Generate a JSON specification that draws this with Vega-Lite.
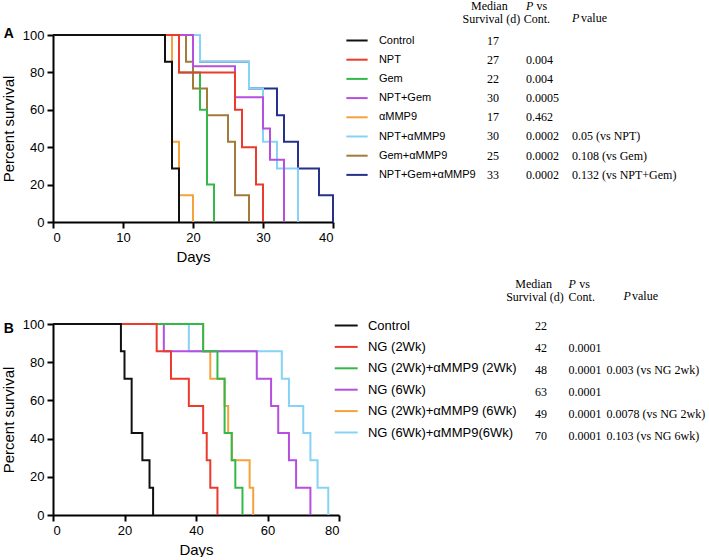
{
  "$schema": "https://vega.github.io/schema/vega-lite/v6.json",
  "padding": {"left": 1, "top": 0, "right": 0, "bottom": 0},
  "background": "white",
  "config": {
    "view": {"stroke": null},
    "font": "Liberation Sans",
    "axis": {"domainColor": "black", "domainWidth": 2, "tickColor": "black", "tickWidth": 2, "tickSize": 6, "labelFont": "Liberation Sans", "labelFontSize": 13, "labelColor": "black", "labelPadding": 3, "titleFont": "Liberation Sans", "titleFontSize": 15, "titleFontWeight": "normal", "titleColor": "black", "grid": false},
    "text": {"font": "Liberation Serif", "fontSize": 12, "color": "black", "baseline": "middle"},
    "line": {"interpolate": "step-after", "strokeWidth": 2}
  },
  "datasets": {
    "survA": [
      {"group": "NPT+Gem+αMMP9", "day": 0, "pct": 100}, {"group": "NPT+Gem+αMMP9", "day": 21, "pct": 85.7}, {"group": "NPT+Gem+αMMP9", "day": 28, "pct": 71.4}, {"group": "NPT+Gem+αMMP9", "day": 32, "pct": 57.1}, {"group": "NPT+Gem+αMMP9", "day": 33, "pct": 42.9}, {"group": "NPT+Gem+αMMP9", "day": 35, "pct": 28.6}, {"group": "NPT+Gem+αMMP9", "day": 38, "pct": 14.3}, {"group": "NPT+Gem+αMMP9", "day": 40, "pct": 0},
      {"group": "Gem+αMMP9", "day": 0, "pct": 100}, {"group": "Gem+αMMP9", "day": 19, "pct": 85.7}, {"group": "Gem+αMMP9", "day": 20, "pct": 71.4}, {"group": "Gem+αMMP9", "day": 22, "pct": 57.1}, {"group": "Gem+αMMP9", "day": 25, "pct": 42.9}, {"group": "Gem+αMMP9", "day": 26, "pct": 14.3}, {"group": "Gem+αMMP9", "day": 28, "pct": 0},
      {"group": "NPT+αMMP9", "day": 0, "pct": 100}, {"group": "NPT+αMMP9", "day": 21, "pct": 85.7}, {"group": "NPT+αMMP9", "day": 28, "pct": 71.4}, {"group": "NPT+αMMP9", "day": 30, "pct": 42.9}, {"group": "NPT+αMMP9", "day": 32, "pct": 28.6}, {"group": "NPT+αMMP9", "day": 35, "pct": 0},
      {"group": "αMMP9", "day": 0, "pct": 100}, {"group": "αMMP9", "day": 17, "pct": 42.9}, {"group": "αMMP9", "day": 18, "pct": 14.3}, {"group": "αMMP9", "day": 20, "pct": 0},
      {"group": "NPT+Gem", "day": 0, "pct": 100}, {"group": "NPT+Gem", "day": 20, "pct": 83.3}, {"group": "NPT+Gem", "day": 26, "pct": 66.7}, {"group": "NPT+Gem", "day": 30, "pct": 50}, {"group": "NPT+Gem", "day": 31, "pct": 33.3}, {"group": "NPT+Gem", "day": 33, "pct": 0},
      {"group": "Gem", "day": 0, "pct": 100}, {"group": "Gem", "day": 18, "pct": 80}, {"group": "Gem", "day": 21, "pct": 60}, {"group": "Gem", "day": 22, "pct": 20}, {"group": "Gem", "day": 23, "pct": 0},
      {"group": "NPT", "day": 0, "pct": 100}, {"group": "NPT", "day": 18, "pct": 80}, {"group": "NPT", "day": 26, "pct": 60}, {"group": "NPT", "day": 27, "pct": 40}, {"group": "NPT", "day": 29, "pct": 20}, {"group": "NPT", "day": 30, "pct": 0},
      {"group": "Control", "day": 0, "pct": 100}, {"group": "Control", "day": 16, "pct": 85.7}, {"group": "Control", "day": 17, "pct": 28.6}, {"group": "Control", "day": 18, "pct": 0}
    ],
    "survB": [
      {"group": "NG (6Wk)+αMMP9(6Wk)", "day": 0, "pct": 100}, {"group": "NG (6Wk)+αMMP9(6Wk)", "day": 38, "pct": 85.7}, {"group": "NG (6Wk)+αMMP9(6Wk)", "day": 64, "pct": 71.4}, {"group": "NG (6Wk)+αMMP9(6Wk)", "day": 66, "pct": 57.1}, {"group": "NG (6Wk)+αMMP9(6Wk)", "day": 70, "pct": 42.9}, {"group": "NG (6Wk)+αMMP9(6Wk)", "day": 72, "pct": 28.6}, {"group": "NG (6Wk)+αMMP9(6Wk)", "day": 74, "pct": 14.3}, {"group": "NG (6Wk)+αMMP9(6Wk)", "day": 77, "pct": 0},
      {"group": "NG (2Wk)+αMMP9 (6Wk)", "day": 0, "pct": 100}, {"group": "NG (2Wk)+αMMP9 (6Wk)", "day": 42, "pct": 85.7}, {"group": "NG (2Wk)+αMMP9 (6Wk)", "day": 44, "pct": 71.4}, {"group": "NG (2Wk)+αMMP9 (6Wk)", "day": 48, "pct": 57.1}, {"group": "NG (2Wk)+αMMP9 (6Wk)", "day": 49, "pct": 42.9}, {"group": "NG (2Wk)+αMMP9 (6Wk)", "day": 50, "pct": 28.6}, {"group": "NG (2Wk)+αMMP9 (6Wk)", "day": 55, "pct": 14.3}, {"group": "NG (2Wk)+αMMP9 (6Wk)", "day": 56, "pct": 0},
      {"group": "NG (6Wk)", "day": 0, "pct": 100}, {"group": "NG (6Wk)", "day": 31, "pct": 85.7}, {"group": "NG (6Wk)", "day": 57, "pct": 71.4}, {"group": "NG (6Wk)", "day": 61, "pct": 57.1}, {"group": "NG (6Wk)", "day": 63, "pct": 42.9}, {"group": "NG (6Wk)", "day": 66, "pct": 28.6}, {"group": "NG (6Wk)", "day": 68, "pct": 14.3}, {"group": "NG (6Wk)", "day": 72, "pct": 0},
      {"group": "NG (2Wk)+αMMP9 (2Wk)", "day": 0, "pct": 100}, {"group": "NG (2Wk)+αMMP9 (2Wk)", "day": 42, "pct": 85.7}, {"group": "NG (2Wk)+αMMP9 (2Wk)", "day": 46, "pct": 71.4}, {"group": "NG (2Wk)+αMMP9 (2Wk)", "day": 48, "pct": 42.9}, {"group": "NG (2Wk)+αMMP9 (2Wk)", "day": 50, "pct": 28.6}, {"group": "NG (2Wk)+αMMP9 (2Wk)", "day": 51, "pct": 14.3}, {"group": "NG (2Wk)+αMMP9 (2Wk)", "day": 53, "pct": 0},
      {"group": "NG (2Wk)", "day": 0, "pct": 100}, {"group": "NG (2Wk)", "day": 29, "pct": 85.7}, {"group": "NG (2Wk)", "day": 33, "pct": 71.4}, {"group": "NG (2Wk)", "day": 38, "pct": 57.1}, {"group": "NG (2Wk)", "day": 42, "pct": 42.9}, {"group": "NG (2Wk)", "day": 43, "pct": 28.6}, {"group": "NG (2Wk)", "day": 44, "pct": 14.3}, {"group": "NG (2Wk)", "day": 46, "pct": 0},
      {"group": "Control", "day": 0, "pct": 100}, {"group": "Control", "day": 19, "pct": 85.7}, {"group": "Control", "day": 20, "pct": 71.4}, {"group": "Control", "day": 22, "pct": 42.9}, {"group": "Control", "day": 25, "pct": 28.6}, {"group": "Control", "day": 27, "pct": 14.3}, {"group": "Control", "day": 28, "pct": 0}
    ],
    "tabA": [
      {"g": "Control", "med": "17", "pc": "", "pv": ""},
      {"g": "NPT", "med": "27", "pc": "0.004", "pv": ""},
      {"g": "Gem", "med": "22", "pc": "0.004", "pv": ""},
      {"g": "NPT+Gem", "med": "30", "pc": "0.0005", "pv": ""},
      {"g": "αMMP9", "med": "17", "pc": "0.462", "pv": ""},
      {"g": "NPT+αMMP9", "med": "30", "pc": "0.0002", "pv": "0.05 (vs NPT)"},
      {"g": "Gem+αMMP9", "med": "25", "pc": "0.0002", "pv": "0.108 (vs Gem)"},
      {"g": "NPT+Gem+αMMP9", "med": "33", "pc": "0.0002", "pv": "0.132 (vs NPT+Gem)"}
    ],
    "tabB": [
      {"g": "Control", "med": "22", "pc": "", "pv": ""},
      {"g": "NG (2Wk)", "med": "42", "pc": "0.0001", "pv": ""},
      {"g": "NG (2Wk)+αMMP9 (2Wk)", "med": "48", "pc": "0.0001", "pv": "0.003 (vs NG 2wk)"},
      {"g": "NG (6Wk)", "med": "63", "pc": "0.0001", "pv": ""},
      {"g": "NG (2Wk)+αMMP9 (6Wk)", "med": "49", "pc": "0.0001", "pv": "0.0078 (vs NG 2wk)"},
      {"g": "NG (6Wk)+αMMP9(6Wk)", "med": "70", "pc": "0.0001", "pv": "0.103 (vs NG 6wk)"}
    ],
    "hdr": [
      {"k": "m1", "t": "Median"}, {"k": "m2", "t": "Survival (d)"}, {"k": "p1", "t": "P"}, {"k": "p2", "t": "vs"}, {"k": "p3", "t": "Cont."}, {"k": "v1", "t": "P"}, {"k": "v2", "t": "value"}
    ]
  },
  "vconcat": [
    {
      "title": {"text": "A", "anchor": "start", "frame": "bounds", "font": "Liberation Sans", "fontSize": 14, "fontWeight": "bold", "color": "black", "baseline": "top", "offset": 0, "dy": 41, "dx": 2},
      "width": 280,
      "height": 187,
      "layer": [
        {
          "data": {"name": "survA"},
          "encoding": {
            "x": {"field": "day", "type": "quantitative", "scale": {"domain": [0, 40], "nice": false}, "axis": {"values": [0, 10, 20, 30, 40], "title": "Days", "titlePadding": 5}},
            "y": {"field": "pct", "type": "quantitative", "scale": {"domain": [0, 100], "nice": false}, "axis": {"values": [0, 20, 40, 60, 80, 100], "title": "Percent survival", "titlePadding": 5.5}},
            "color": {"field": "group", "type": "nominal", "scale": {"domain": ["Control", "NPT", "Gem", "NPT+Gem", "αMMP9", "NPT+αMMP9", "Gem+αMMP9", "NPT+Gem+αMMP9"], "range": ["#111111", "#ec3a2c", "#35b84a", "#b54fdf", "#f5a13c", "#86d3f5", "#a27b3b", "#25318a"]},
              "legend": {"title": null, "orient": "none", "legendX": 297.5, "legendY": -1, "symbolType": "M-2,0H2", "symbolSize": 113, "symbolStrokeWidth": 2, "labelFont": "Liberation Sans", "labelFontSize": 11, "labelColor": "black", "labelOffset": 15.4, "rowPadding": 7.2, "labelLimit": 300}}
          },
          "layer": [
            {"transform": [{"filter": "datum.group == 'NPT+Gem+αMMP9'"}], "mark": "line"},
            {"transform": [{"filter": "datum.group == 'Gem+αMMP9'"}], "mark": "line"},
            {"transform": [{"filter": "datum.group == 'NPT+αMMP9'"}], "mark": "line"},
            {"transform": [{"filter": "datum.group == 'αMMP9'"}], "mark": "line"},
            {"transform": [{"filter": "datum.group == 'NPT+Gem'"}], "mark": "line"},
            {"transform": [{"filter": "datum.group == 'Gem'"}], "mark": "line"},
            {"transform": [{"filter": "datum.group == 'NPT'"}], "mark": "line"},
            {"transform": [{"filter": "datum.group == 'Control'"}], "mark": "line"}
          ]
        },
        {
          "layer": [
            {
              "data": {"name": "tabA"},
              "mark": {"type": "text", "align": "left"},
              "encoding": {
                "x": {"datum": "med", "type": "nominal", "scale": {"domain": ["med", "pc", "pv"], "range": [434, 519], "padding": 0}, "axis": null},
                "y": {"field": "g", "type": "nominal", "scale": {"domain": ["hdr", "Control", "NPT", "Gem", "NPT+Gem", "αMMP9", "NPT+αMMP9", "Gem+αMMP9", "NPT+Gem+αMMP9"], "range": [-13.4, 139.7], "padding": 0}, "axis": null},
                "text": {"field": "med"}
              }
            },
            {
              "data": {"name": "tabA"},
              "mark": {"type": "text", "align": "left", "dx": -3.5},
              "encoding": {"x": {"datum": "pc", "type": "nominal"}, "y": {"field": "g", "type": "nominal"}, "text": {"field": "pc"}}
            },
            {
              "data": {"name": "tabA"},
              "mark": {"type": "text", "align": "left"},
              "encoding": {"x": {"datum": "pv", "type": "nominal"}, "y": {"field": "g", "type": "nominal"}, "text": {"field": "pv"}}
            },
            {
              "data": {"name": "hdr"}, "transform": [{"filter": "datum.k == 'm1'"}],
              "mark": {"type": "text", "align": "center", "dx": 2.3, "dy": -15.4},
              "encoding": {"x": {"datum": "med", "type": "nominal"}, "y": {"datum": "hdr", "type": "nominal"}, "text": {"field": "t"}}
            },
            {
              "data": {"name": "hdr"}, "transform": [{"filter": "datum.k == 'm2'"}],
              "mark": {"type": "text", "align": "center", "dx": 4.3, "dy": -2.4},
              "encoding": {"x": {"datum": "med", "type": "nominal"}, "y": {"datum": "hdr", "type": "nominal"}, "text": {"field": "t"}}
            },
            {
              "data": {"name": "hdr"}, "transform": [{"filter": "datum.k == 'p1'"}],
              "mark": {"type": "text", "align": "left", "fontStyle": "italic", "dx": -3.5, "dy": -15.4},
              "encoding": {"x": {"datum": "pc", "type": "nominal"}, "y": {"datum": "hdr", "type": "nominal"}, "text": {"field": "t"}}
            },
            {
              "data": {"name": "hdr"}, "transform": [{"filter": "datum.k == 'p2'"}],
              "mark": {"type": "text", "align": "left", "dx": 7.1, "dy": -15.4},
              "encoding": {"x": {"datum": "pc", "type": "nominal"}, "y": {"datum": "hdr", "type": "nominal"}, "text": {"field": "t"}}
            },
            {
              "data": {"name": "hdr"}, "transform": [{"filter": "datum.k == 'p3'"}],
              "mark": {"type": "text", "align": "left", "dx": -5.8, "dy": -2.4},
              "encoding": {"x": {"datum": "pc", "type": "nominal"}, "y": {"datum": "hdr", "type": "nominal"}, "text": {"field": "t"}}
            },
            {
              "data": {"name": "hdr"}, "transform": [{"filter": "datum.k == 'v1'"}],
              "mark": {"type": "text", "align": "left", "fontStyle": "italic", "dy": -3.4},
              "encoding": {"x": {"datum": "pv", "type": "nominal"}, "y": {"datum": "hdr", "type": "nominal"}, "text": {"field": "t"}}
            },
            {
              "data": {"name": "hdr"}, "transform": [{"filter": "datum.k == 'v2'"}],
              "mark": {"type": "text", "align": "left", "dx": 9, "dy": -3.4},
              "encoding": {"x": {"datum": "pv", "type": "nominal"}, "y": {"datum": "hdr", "type": "nominal"}, "text": {"field": "t"}}
            }
          ]
        }
      ],
      "resolve": {"scale": {"x": "independent", "y": "independent"}}
    },
    {
      "title": {"text": "B", "anchor": "start", "frame": "bounds", "font": "Liberation Sans", "fontSize": 14, "fontWeight": "bold", "color": "black", "baseline": "top", "offset": 0, "dy": 58, "dx": 2},
      "width": 286,
      "height": 191,
      "layer": [
        {
          "data": {"name": "survB"},
          "encoding": {
            "x": {"field": "day", "type": "quantitative", "scale": {"domain": [0, 80], "nice": false}, "axis": {"values": [0, 20, 40, 60, 80], "title": "Days", "titlePadding": 5}},
            "y": {"field": "pct", "type": "quantitative", "scale": {"domain": [0, 100], "nice": false}, "axis": {"values": [0, 20, 40, 60, 80, 100], "title": "Percent survival", "titlePadding": 5.5}},
            "color": {"field": "group", "type": "nominal", "scale": {"domain": ["Control", "NG (2Wk)", "NG (2Wk)+αMMP9 (2Wk)", "NG (6Wk)", "NG (2Wk)+αMMP9 (6Wk)", "NG (6Wk)+αMMP9(6Wk)"], "range": ["#111111", "#ec3a2c", "#35b84a", "#b54fdf", "#f5a13c", "#86d3f5"]},
              "legend": {"title": null, "orient": "none", "legendX": 286.2, "legendY": -5.5, "symbolType": "M-2,0H2", "symbolSize": 132, "symbolStrokeWidth": 2, "labelFont": "Liberation Sans", "labelFontSize": 13, "labelColor": "black", "labelOffset": 14.75, "rowPadding": 7.4, "labelLimit": 300}}
          },
          "layer": [
            {"transform": [{"filter": "datum.group == 'NG (6Wk)+αMMP9(6Wk)'"}], "mark": "line"},
            {"transform": [{"filter": "datum.group == 'NG (2Wk)+αMMP9 (6Wk)'"}], "mark": "line"},
            {"transform": [{"filter": "datum.group == 'NG (6Wk)'"}], "mark": "line"},
            {"transform": [{"filter": "datum.group == 'NG (2Wk)+αMMP9 (2Wk)'"}], "mark": "line"},
            {"transform": [{"filter": "datum.group == 'NG (2Wk)'"}], "mark": "line"},
            {"transform": [{"filter": "datum.group == 'Control'"}], "mark": "line"}
          ]
        },
        {
          "layer": [
            {
              "data": {"name": "tabB"},
              "mark": {"type": "text", "align": "left"},
              "encoding": {
                "x": {"datum": "med", "type": "nominal", "scale": {"domain": ["med", "pc", "pv"], "range": [482, 553.5], "padding": 0}, "axis": null},
                "y": {"field": "g", "type": "nominal", "scale": {"domain": ["hdr", "Control", "NG (2Wk)", "NG (2Wk)+αMMP9 (2Wk)", "NG (6Wk)", "NG (2Wk)+αMMP9 (6Wk)", "NG (6Wk)+αMMP9(6Wk)"], "range": [-20.3, 111.7], "padding": 0}, "axis": null},
                "text": {"field": "med"}
              }
            },
            {
              "data": {"name": "tabB"},
              "mark": {"type": "text", "align": "left", "dx": -2.2},
              "encoding": {"x": {"datum": "pc", "type": "nominal"}, "y": {"field": "g", "type": "nominal"}, "text": {"field": "pc"}}
            },
            {
              "data": {"name": "tabB"},
              "mark": {"type": "text", "align": "left"},
              "encoding": {"x": {"datum": "pv", "type": "nominal"}, "y": {"field": "g", "type": "nominal"}, "text": {"field": "pv"}}
            },
            {
              "data": {"name": "hdr"}, "transform": [{"filter": "datum.k == 'm1'"}],
              "mark": {"type": "text", "align": "center", "dx": -1.4, "dy": -19.7},
              "encoding": {"x": {"datum": "med", "type": "nominal"}, "y": {"datum": "hdr", "type": "nominal"}, "text": {"field": "t"}}
            },
            {
              "data": {"name": "hdr"}, "transform": [{"filter": "datum.k == 'm2'"}],
              "mark": {"type": "text", "align": "center", "dx": 0, "dy": -6.3},
              "encoding": {"x": {"datum": "med", "type": "nominal"}, "y": {"datum": "hdr", "type": "nominal"}, "text": {"field": "t"}}
            },
            {
              "data": {"name": "hdr"}, "transform": [{"filter": "datum.k == 'p1'"}],
              "mark": {"type": "text", "align": "left", "fontStyle": "italic", "dx": -2.2, "dy": -19.7},
              "encoding": {"x": {"datum": "pc", "type": "nominal"}, "y": {"datum": "hdr", "type": "nominal"}, "text": {"field": "t"}}
            },
            {
              "data": {"name": "hdr"}, "transform": [{"filter": "datum.k == 'p2'"}],
              "mark": {"type": "text", "align": "left", "dx": 8.5, "dy": -19.7},
              "encoding": {"x": {"datum": "pc", "type": "nominal"}, "y": {"datum": "hdr", "type": "nominal"}, "text": {"field": "t"}}
            },
            {
              "data": {"name": "hdr"}, "transform": [{"filter": "datum.k == 'p3'"}],
              "mark": {"type": "text", "align": "left", "dx": -2.2, "dy": -6.3},
              "encoding": {"x": {"datum": "pc", "type": "nominal"}, "y": {"datum": "hdr", "type": "nominal"}, "text": {"field": "t"}}
            },
            {
              "data": {"name": "hdr"}, "transform": [{"filter": "datum.k == 'v1'"}],
              "mark": {"type": "text", "align": "left", "fontStyle": "italic", "dx": 17.1, "dy": -8},
              "encoding": {"x": {"datum": "pv", "type": "nominal"}, "y": {"datum": "hdr", "type": "nominal"}, "text": {"field": "t"}}
            },
            {
              "data": {"name": "hdr"}, "transform": [{"filter": "datum.k == 'v2'"}],
              "mark": {"type": "text", "align": "left", "dx": 25.5, "dy": -8},
              "encoding": {"x": {"datum": "pv", "type": "nominal"}, "y": {"datum": "hdr", "type": "nominal"}, "text": {"field": "t"}}
            }
          ]
        }
      ],
      "resolve": {"scale": {"x": "independent", "y": "independent"}}
    }
  ],
  "spacing": 14,
  "resolve": {"scale": {"color": "independent"}, "legend": {"color": "independent"}}
}
